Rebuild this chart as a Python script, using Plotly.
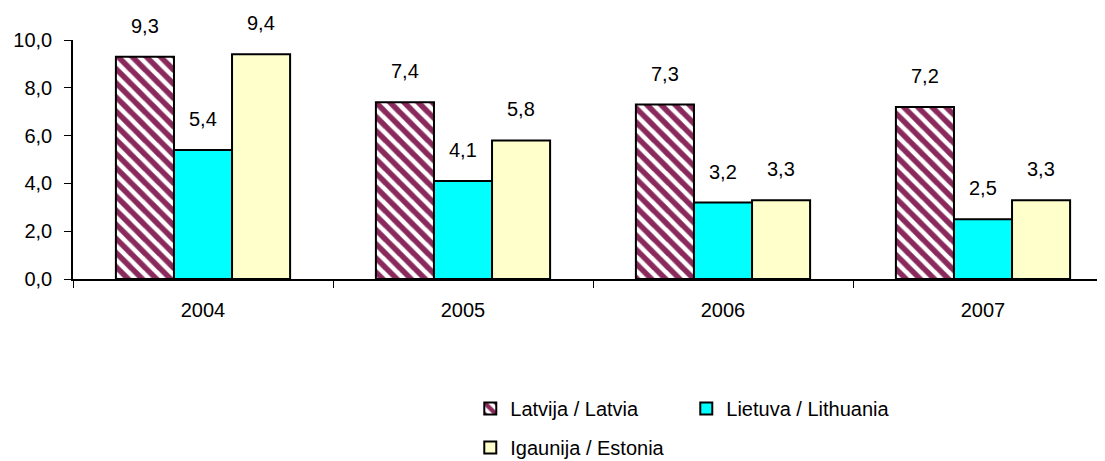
import plotly.graph_objects as go

years = ["2004", "2005", "2006", "2007"]
latvia = [9.3, 7.4, 7.3, 7.2]
lithuania = [5.4, 4.1, 3.2, 2.5]
estonia = [9.4, 5.8, 3.3, 3.3]
series_names = ["Latvija / Latvia", "Lietuva / Lithuania", "Igaunija / Estonia"]
y_ticks = [0, 2, 4, 6, 8, 10]

FONT = "Liberation Sans, Arial"

fig = go.Figure()
fig.add_trace(go.Bar(
    x=years, y=latvia, name=series_names[0], legend="legend",
    marker=dict(color="white", line=dict(color="black", width=2),
                pattern=dict(shape="\\", fgcolor="#8a2a5c", bgcolor="white",
                             fgopacity=1, fillmode="replace",
                             size=10, solidity=0.55)),
))
fig.add_trace(go.Bar(
    x=years, y=lithuania, name=series_names[1], legend="legend",
    marker=dict(color="#00FFFF", line=dict(color="black", width=2)),
))
fig.add_trace(go.Bar(
    x=years, y=estonia, name=series_names[2], legend="legend2",
    marker=dict(color="#FFFFCC", line=dict(color="black", width=2)),
))

shifts = [-58, 0, 58]
for vals, sh in zip([latvia, lithuania, estonia], shifts):
    for i, v in enumerate(vals):
        fig.add_annotation(x=i, y=v, xref="x", yref="y",
                           text=f"{v:.1f}".replace(".", ","),
                           showarrow=False, xshift=sh, yshift=31,
                           font=dict(size=20, color="black", family=FONT))

leg_common = dict(orientation="h", xanchor="left", yanchor="top",
                  font=dict(size=20, family=FONT, color="black"),
                  bgcolor="rgba(0,0,0,0)")

fig.update_layout(
    width=1105, height=461,
    margin=dict(l=65, r=0, t=32, b=190),
    paper_bgcolor="white", plot_bgcolor="white",
    barmode="group", bargap=0.33, bargroupgap=0,
    separators=", ",
    font=dict(family=FONT, size=20, color="black"),
    showlegend=True,
    legend=dict(x=0.382, y=-0.46, entrywidth=171, entrywidthmode="pixels", **leg_common),
    legend2=dict(x=0.382, y=-0.623, **leg_common),
    xaxis=dict(type="category", range=[-0.5, 3.5], showline=True, linecolor="black",
               linewidth=1.5, ticks="outside", tickson="boundaries", ticklen=7,
               tickcolor="black", tickfont=dict(size=20), showgrid=False,
               ticklabelstandoff=12),
    yaxis=dict(range=[0, 10], tickvals=y_ticks, tickformat=".1f",
               showline=True, linecolor="black", linewidth=1.5,
               ticks="outside", ticklen=7, tickcolor="black",
               tickfont=dict(size=20), showgrid=False, zeroline=False,
               ticklabelstandoff=8),
)

fig.write_html("out.html")
